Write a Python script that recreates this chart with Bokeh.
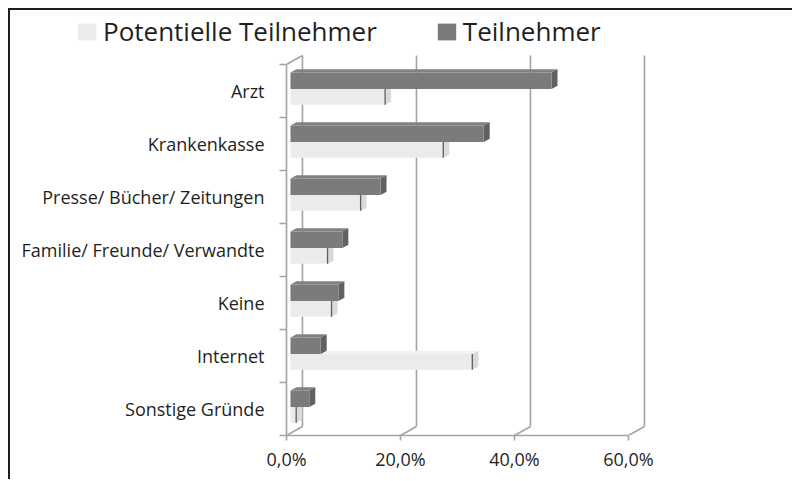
from bokeh.plotting import figure
from bokeh.layouts import column
from bokeh.models import FixedTicker, Legend, LegendItem, Range1d
from bokeh.embed import file_html
from bokeh.resources import INLINE

categories = ["Arzt", "Krankenkasse", "Presse/ Bücher/ Zeitungen",
              "Familie/ Freunde/ Verwandte", "Keine", "Internet", "Sonstige Gründe"]
potentielle = [16.6, 26.8, 12.3, 6.5, 7.2, 31.9, 1.0]
teilnehmer = [45.8, 33.9, 15.8, 9.1, 8.4, 5.3, 3.3]
series_names = ["Potentielle Teilnehmer", "Teilnehmer"]
x_ticks = [0, 20, 40, 60]
x_tick_labels = ["0,0%", "20,0%", "40,0%", "60,0%"]

# 3D styling constants (data units)
BASE = 0.7              # bar start offset
BDX, BDY = 1.05, 0.06   # bar depth
WDX, WDY = 2.8, 0.17    # wall depth
L_LO, L_HI = 0.24, 0.54
D_LO, D_HI = 0.54, 0.85

LIGHT = ("#ebebeb", "#f2f2f2", "#dadada")
DARK = ("#7b7b7e", "#818184", "#616163")

n = len(categories)
yb = [n - 1 - i for i in range(n)]

W = 782
p = figure(width=W, height=429, x_range=Range1d(0, 63.86), y_range=Range1d(0, 7.19),
           output_backend="svg", toolbar_location=None,
           min_border_left=276, min_border_right=W - 640, min_border_top=4, min_border_bottom=44)
p.frame_align = False
p.xgrid.visible = False
p.ygrid.visible = False
p.outline_line_color = None

wall = "#a3a3a3"
p.segment(x0=[t + WDX for t in x_ticks], y0=[WDY] * len(x_ticks),
          x1=[t + WDX for t in x_ticks], y1=[n + WDY] * len(x_ticks),
          line_color=wall, line_width=1.6)
p.segment(x0=x_ticks, y0=[0] * len(x_ticks), x1=[t + WDX for t in x_ticks], y1=[WDY] * len(x_ticks),
          line_color=wall, line_width=1.6)
p.segment(x0=[0], y0=[n], x1=[WDX], y1=[n + WDY], line_color=wall, line_width=1.6)


def bar3d(values, lo, hi, colors, edge=None):
    front, top, side = colors
    fx_l, fx_r, fb, ft = [], [], [], []
    top_xs, top_ys, side_xs, side_ys = [], [], [], []
    for v, b in zip(values, yb):
        x0, x1 = BASE, BASE + v
        y0, y1 = b + lo, b + hi
        fx_l.append(x0); fx_r.append(x1); fb.append(y0); ft.append(y1)
        top_xs.append([x0, x1, x1 + BDX, x0 + BDX])
        top_ys.append([y1, y1, y1 + BDY, y1 + BDY])
        side_xs.append([x1, x1, x1 + BDX, x1 + BDX])
        side_ys.append([y0, y1, y1 + BDY, y0 + BDY])
    p.patches(top_xs, top_ys, fill_color=top, line_color=None)
    p.patches(side_xs, side_ys, fill_color=side, line_color=None)
    r = p.quad(left=fx_l, right=fx_r, bottom=fb, top=ft, fill_color=front, line_color=None)
    if edge:
        p.segment(x0=fx_r, y0=fb, x1=fx_r, y1=ft, line_color=edge, line_width=1.3)
    return r


bar3d(potentielle, L_LO, L_HI, LIGHT, edge="#5e5e5e")
bar3d(teilnehmer, D_LO, D_HI, DARK)

font = "Open Sans"
txt = "#1f1f1f"
xa = p.xaxis[0]
xa.ticker = FixedTicker(ticks=x_ticks)
xa.major_label_overrides = {t: s for t, s in zip(x_ticks, x_tick_labels)}
xa.bounds = (0, 60)
xa.axis_line_color = wall
xa.axis_line_width = 1.6
xa.major_tick_line_color = wall
xa.major_tick_line_width = 1.6
xa.major_tick_out = 5
xa.major_tick_in = 0
xa.minor_tick_line_color = None
xa.major_label_text_font = font
xa.major_label_text_font_size = "18px"
xa.major_label_text_color = txt
xa.major_label_standoff = 6

ya = p.yaxis[0]
centers = [b + 0.5 for b in yb]
ya.ticker = FixedTicker(ticks=centers, minor_ticks=list(range(n + 1)))
ya.major_label_overrides = {c: s for c, s in zip(centers, categories)}
ya.bounds = (0, n)
ya.axis_line_color = wall
ya.axis_line_width = 1.6
ya.major_tick_line_color = None
ya.major_tick_out = 0
ya.major_tick_in = 0
ya.minor_tick_line_color = wall
ya.minor_tick_line_width = 1.6
ya.minor_tick_out = 7
ya.minor_tick_in = 0
ya.major_label_text_font = font
ya.major_label_text_font_size = "18px"
ya.major_label_text_color = txt
ya.major_label_standoff = 15

# legend strip above the chart
lg = figure(width=W, height=40, x_range=Range1d(0, W), y_range=Range1d(0, 40),
            output_backend="svg", toolbar_location=None,
            min_border_left=0, min_border_right=0, min_border_top=0, min_border_bottom=0)
lg.frame_align = False
lg.axis.visible = False
lg.grid.visible = False
lg.outline_line_color = None
# swatch renderers kept outside the visible range; only their legend glyphs show
r_pot = lg.quad(left=[-20], right=[-10], bottom=[0], top=[10], fill_color=LIGHT[0], line_color=None)
r_tei = lg.quad(left=[-20], right=[-10], bottom=[0], top=[10], fill_color=DARK[0], line_color=None)
legend = Legend(items=[LegendItem(label=series_names[0], renderers=[r_pot]),
                       LegendItem(label=series_names[1], renderers=[r_tei])],
                location=(65, 1), orientation="horizontal",
                label_text_font=font, label_text_font_size="26px", label_text_color=txt,
                glyph_width=23, glyph_height=21, label_standoff=5, spacing=58,
                padding=0, margin=0, border_line_color=None, background_fill_alpha=0)
lg.add_layout(legend)

layout = column(lg, p, spacing=0)
layout.styles = {"border-left": "2px solid #1e1e1e", "border-top": "2px solid #1e1e1e",
                 "margin-left": "8px", "margin-top": "8px"}

open("out.html", "w").write(file_html(layout, INLINE))
